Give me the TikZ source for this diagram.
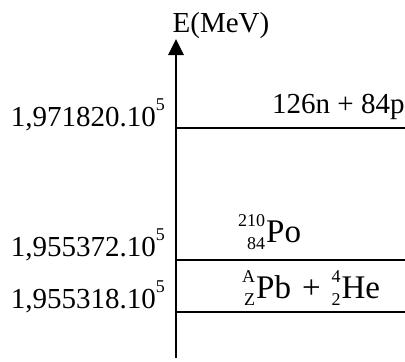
\documentclass[tikz,border=0pt]{standalone}
\usepackage{fontspec}
\setmainfont{Liberation Serif}
\usetikzlibrary{arrows.meta}
\newcommand\supr[1]{\raisebox{0.52em}{\fontsize{18}{18}\selectfont #1}}
\newcommand\nuc[3]{\setbox0=\hbox{\fontsize{18}{18}\selectfont #1}\setbox2=\hbox{\fontsize{18}{18}\selectfont #2}%
\dimen0=\ifdim\wd0>\wd2 \wd0\else\wd2\fi
\hbox to\dimen0{\hfill\raise0.48em\box0}\kern-\dimen0\hbox to\dimen0{\hfill\lower0.22em\box2}\kern1pt#3}
\tikzset{
  lab/.style={inner sep=0pt, font=\fontsize{29}{31}\selectfont},
  nlab/.style={inner sep=0pt, font=\fontsize{33}{35}\selectfont},
  level/.style={line width=1.8pt},
  axis/.style={line width=2.8pt, -{Triangle[length=16pt,width=15pt]}}
}
\begin{document}
\begin{tikzpicture}[x=1pt,y=-1pt]
\useasboundingbox (0,0) rectangle (405,362);
\coordinate (a0) at (176,358);
\coordinate (a1) at (176,39);
\draw[axis] (a0) -- (a1);
\node[lab, anchor=base] (E) at (221,32) {E(MeV)};
% levels
\coordinate (s1) at (176,128); \coordinate (e1) at (405,128);
\coordinate (s2) at (176,260); \coordinate (e2) at (405,260);
\coordinate (s3) at (176,312); \coordinate (e3) at (405,312);
\draw[level] (s1) -- (e1);
\draw[level] (s2) -- (e2);
\draw[level] (s3) -- (e3);
% left labels
\node[lab, anchor=base east] (v1) at (165,126) {1,971820.10\supr{5}};
\node[lab, anchor=base east] (v2) at (165,256) {1,955372.10\supr{5}};
\node[lab, anchor=base east] (v3) at (165,308) {1,955318.10\supr{5}};
% right labels
\node[lab, anchor=base west] (r1) at (272,113) {126n + 84p};
\node[nlab, anchor=base west] (r2) at (238,242) {\nuc{210}{84}{Po}};
\node[nlab, anchor=base west] (r3) at (242,298) {\nuc{A}{Z}{Pb}\,\,+\,\,\nuc{4}{2}{He}};
\end{tikzpicture}
\end{document}
